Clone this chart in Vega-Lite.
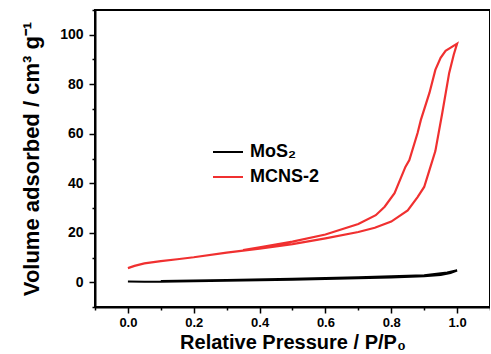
{
  "$schema": "https://vega.github.io/schema/vega-lite/v6.json",
  "width": 395,
  "height": 297,
  "autosize": "none",
  "padding": {"left": 95, "top": 10, "right": 0, "bottom": 47},
  "background": "white",
  "config": {
    "view": {"stroke": "black", "strokeWidth": 2},
    "font": "Liberation Sans"
  },
  "data": {
    "values": [
      {"s": "MoS₂", "i": 1, "p": 0.0, "v": 0.3},
      {"s": "MoS₂", "i": 2, "p": 0.05, "v": 0.2},
      {"s": "MoS₂", "i": 3, "p": 0.1, "v": 0.2},
      {"s": "MoS₂", "i": 4, "p": 0.2, "v": 0.4},
      {"s": "MoS₂", "i": 5, "p": 0.3, "v": 0.6},
      {"s": "MoS₂", "i": 6, "p": 0.4, "v": 0.8},
      {"s": "MoS₂", "i": 7, "p": 0.5, "v": 1.1},
      {"s": "MoS₂", "i": 8, "p": 0.6, "v": 1.4},
      {"s": "MoS₂", "i": 9, "p": 0.7, "v": 1.7},
      {"s": "MoS₂", "i": 10, "p": 0.8, "v": 2.0},
      {"s": "MoS₂", "i": 11, "p": 0.9, "v": 2.5},
      {"s": "MoS₂", "i": 12, "p": 0.95, "v": 3.0},
      {"s": "MoS₂", "i": 13, "p": 0.98, "v": 3.8},
      {"s": "MoS₂", "i": 14, "p": 1.0, "v": 4.8},
      {"s": "MoS₂", "i": 15, "p": 0.97, "v": 3.9},
      {"s": "MoS₂", "i": 16, "p": 0.9, "v": 2.8},
      {"s": "MoS₂", "i": 17, "p": 0.7, "v": 2.0},
      {"s": "MoS₂", "i": 18, "p": 0.5, "v": 1.4},
      {"s": "MoS₂", "i": 19, "p": 0.3, "v": 0.9},
      {"s": "MoS₂", "i": 20, "p": 0.1, "v": 0.5},
      {"s": "MCNS-2", "i": 1, "p": 0.0, "v": 5.7},
      {"s": "MCNS-2", "i": 2, "p": 0.02, "v": 6.6},
      {"s": "MCNS-2", "i": 3, "p": 0.05, "v": 7.6},
      {"s": "MCNS-2", "i": 4, "p": 0.1, "v": 8.5},
      {"s": "MCNS-2", "i": 5, "p": 0.15, "v": 9.3},
      {"s": "MCNS-2", "i": 6, "p": 0.2, "v": 10.1},
      {"s": "MCNS-2", "i": 7, "p": 0.3, "v": 12.0},
      {"s": "MCNS-2", "i": 8, "p": 0.4, "v": 13.6},
      {"s": "MCNS-2", "i": 9, "p": 0.5, "v": 15.4},
      {"s": "MCNS-2", "i": 10, "p": 0.6, "v": 17.7},
      {"s": "MCNS-2", "i": 11, "p": 0.7, "v": 20.3},
      {"s": "MCNS-2", "i": 12, "p": 0.75, "v": 22.0},
      {"s": "MCNS-2", "i": 13, "p": 0.8, "v": 24.5},
      {"s": "MCNS-2", "i": 14, "p": 0.85, "v": 29.0},
      {"s": "MCNS-2", "i": 15, "p": 0.88, "v": 34.4},
      {"s": "MCNS-2", "i": 16, "p": 0.9, "v": 38.5},
      {"s": "MCNS-2", "i": 17, "p": 0.916, "v": 45.3},
      {"s": "MCNS-2", "i": 18, "p": 0.934, "v": 53.0},
      {"s": "MCNS-2", "i": 19, "p": 0.955, "v": 68.4},
      {"s": "MCNS-2", "i": 20, "p": 0.976, "v": 84.6},
      {"s": "MCNS-2", "i": 21, "p": 0.99, "v": 92.0},
      {"s": "MCNS-2", "i": 22, "p": 1.0, "v": 96.4},
      {"s": "MCNS-2", "i": 23, "p": 0.965, "v": 93.5},
      {"s": "MCNS-2", "i": 24, "p": 0.95, "v": 90.7},
      {"s": "MCNS-2", "i": 25, "p": 0.934, "v": 85.8},
      {"s": "MCNS-2", "i": 26, "p": 0.916, "v": 76.5},
      {"s": "MCNS-2", "i": 27, "p": 0.89, "v": 65.6},
      {"s": "MCNS-2", "i": 28, "p": 0.88, "v": 60.3},
      {"s": "MCNS-2", "i": 29, "p": 0.855, "v": 49.4},
      {"s": "MCNS-2", "i": 30, "p": 0.843, "v": 46.6},
      {"s": "MCNS-2", "i": 31, "p": 0.81, "v": 36.0},
      {"s": "MCNS-2", "i": 32, "p": 0.78, "v": 30.5},
      {"s": "MCNS-2", "i": 33, "p": 0.753, "v": 27.1},
      {"s": "MCNS-2", "i": 34, "p": 0.7, "v": 23.5},
      {"s": "MCNS-2", "i": 35, "p": 0.6, "v": 19.3},
      {"s": "MCNS-2", "i": 36, "p": 0.5, "v": 16.4},
      {"s": "MCNS-2", "i": 37, "p": 0.4, "v": 14.1},
      {"s": "MCNS-2", "i": 38, "p": 0.35, "v": 13.0}
    ]
  },
  "mark": {"type": "line", "strokeWidth": 2.2, "clip": true},
  "encoding": {
    "x": {
      "field": "p", "type": "quantitative",
      "scale": {"domain": [-0.1, 1.1], "nice": false, "zero": false},
      "axis": {
        "values": [-0.1, 0, 0.1, 0.2, 0.3, 0.4, 0.5, 0.6, 0.7, 0.8, 0.9, 1.0, 1.1],
        "labelExpr": "round(datum.value*10)%2==0 ? format(datum.value,'.1f') : ''",
        "grid": false,
        "domainColor": "black", "domainWidth": 2,
        "tickColor": "black", "tickWidth": 1.5,
        "tickSize": {"condition": {"test": "round(datum.value*10)%2==0", "value": 6}, "value": 3},
        "labelFont": "Liberation Sans", "labelFontWeight": "bold", "labelFontSize": 13,
        "labelColor": "black", "labelPadding": 3, "labelOverlap": false, "labelFlush": false,
        "title": "Relative Pressure / P/P₀",
        "titleFont": "Liberation Sans", "titleFontWeight": "bold", "titleFontSize": 20,
        "titleColor": "black", "titlePadding": 3
      }
    },
    "y": {
      "field": "v", "type": "quantitative",
      "scale": {"domain": [-10, 110], "nice": false, "zero": false},
      "axis": {
        "values": [-10, 0, 10, 20, 30, 40, 50, 60, 70, 80, 90, 100, 110],
        "labelExpr": "datum.value%20==0 ? format(datum.value,'d') : ''",
        "grid": false,
        "domainColor": "black", "domainWidth": 2,
        "tickColor": "black", "tickWidth": 1.5,
        "tickSize": {"condition": {"test": "datum.value%20==0", "value": 6}, "value": 3},
        "labelFont": "Liberation Sans", "labelFontWeight": "bold", "labelFontSize": 14,
        "labelColor": "black", "labelPadding": 6, "labelOverlap": false, "labelFlush": false,
        "title": "Volume adsorbed / cm³ g⁻¹",
        "titleFont": "Liberation Sans", "titleFontWeight": "bold", "titleFontSize": 22,
        "titleColor": "black", "titlePadding": 16
      }
    },
    "color": {
      "field": "s", "type": "nominal",
      "scale": {"domain": ["MoS₂", "MCNS-2"], "range": ["black", "#f03030"]},
      "legend": {
        "title": null,
        "orient": "none", "legendX": 117, "legendY": 126,
        "symbolType": "stroke", "symbolSize": 900, "symbolStrokeWidth": 2,
        "labelFont": "Liberation Sans", "labelFontWeight": "bold", "labelFontSize": 18,
        "labelColor": "black", "labelOffset": 6, "rowPadding": 0, "padding": 0
      }
    },
    "order": {"field": "i", "type": "quantitative"}
  }
}
